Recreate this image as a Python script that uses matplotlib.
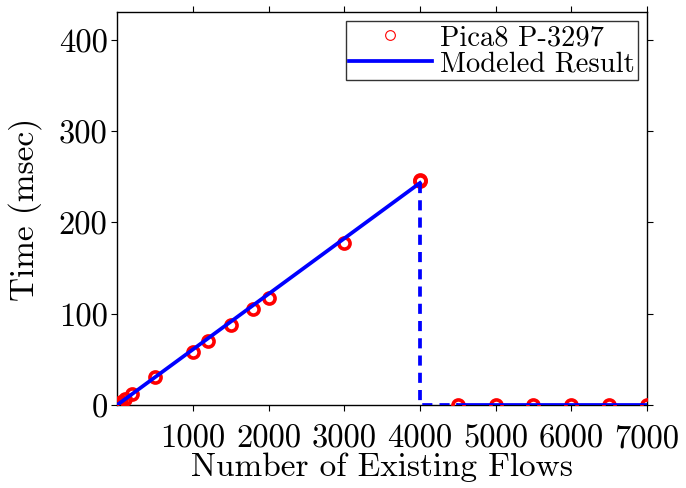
import matplotlib
matplotlib.use("Agg")
from matplotlib import pyplot as plt
from matplotlib.lines import Line2D

# measured switch data (Pica8 P-3297)
flows = [0, 20, 50, 100, 200, 500, 1000, 1200, 1500, 1800, 2000, 3000, 4000, 4000,
         4500, 5000, 5500, 6000, 6500, 7000]
time_ms = [0, 1, 3, 6, 12, 30, 58, 70, 87, 105, 117, 177, 245, 246,
           0, 0, 0, 0, 0, 0]

# modeled result
model_x = [0, 4000]
model_y = [0, 243]
drop_x = [4000, 4000, 4500]
drop_y = [243, 0, 0]
tail_x = [4500, 7000]
tail_y = [0, 0]

xticks = [1000, 2000, 3000, 4000, 5000, 6000, 7000]
yticks = [0, 100, 200, 300, 400]

plt.rcParams["font.family"] = ["cmr10", "DejaVu Serif"]
plt.rcParams["axes.unicode_minus"] = False

fig = plt.figure(figsize=(6.86, 4.89), dpi=100)
ax = fig.add_axes([0.171, 0.170, 0.772, 0.803])

lw = 2.7
ax.plot(flows, time_ms, linestyle="none", marker="o", markersize=8,
        markerfacecolor="none", markeredgecolor="red", markeredgewidth=2.6,
        zorder=3)
ax.plot(model_x, model_y, color="blue", linewidth=lw, zorder=4)
ax.plot(drop_x, drop_y, color="blue", linewidth=lw, linestyle=(0, (2.7, 1.9)), zorder=4)
ax.plot(tail_x, tail_y, color="blue", linewidth=lw, zorder=4)

ax.set_xlim(0, 7000)
ax.set_ylim(0, 430)
ax.set_xticks(xticks)
ax.set_yticks(yticks)
ax.tick_params(direction="out", length=4, width=0.8, labelsize=23.5,
               top=True, right=True)
ax.tick_params(axis="x", pad=9.5)
ax.tick_params(axis="y", pad=3)
for s in ax.spines.values():
    s.set_linewidth(1.0)

ax.set_xlabel("Number of Existing Flows", fontsize=24, labelpad=-1)
ax.set_ylabel("Time (msec)", fontsize=24, labelpad=12)

handles = [
    Line2D([], [], linestyle="none", marker="o", markersize=7,
           markerfacecolor="none", markeredgecolor="red", markeredgewidth=0.8),
    Line2D([], [], color="blue", linewidth=lw),
]
leg = ax.legend(handles, ["Pica8 P-3297", "Modeled Result"], loc="upper right",
                fontsize=20.5, frameon=True, fancybox=False, edgecolor="black",
                borderpad=0.12, labelspacing=0.0, handlelength=2.9,
                handletextpad=0.3, borderaxespad=0.3)
leg.get_frame().set_linewidth(1.0)

fig.savefig("out.png", dpi=100)
